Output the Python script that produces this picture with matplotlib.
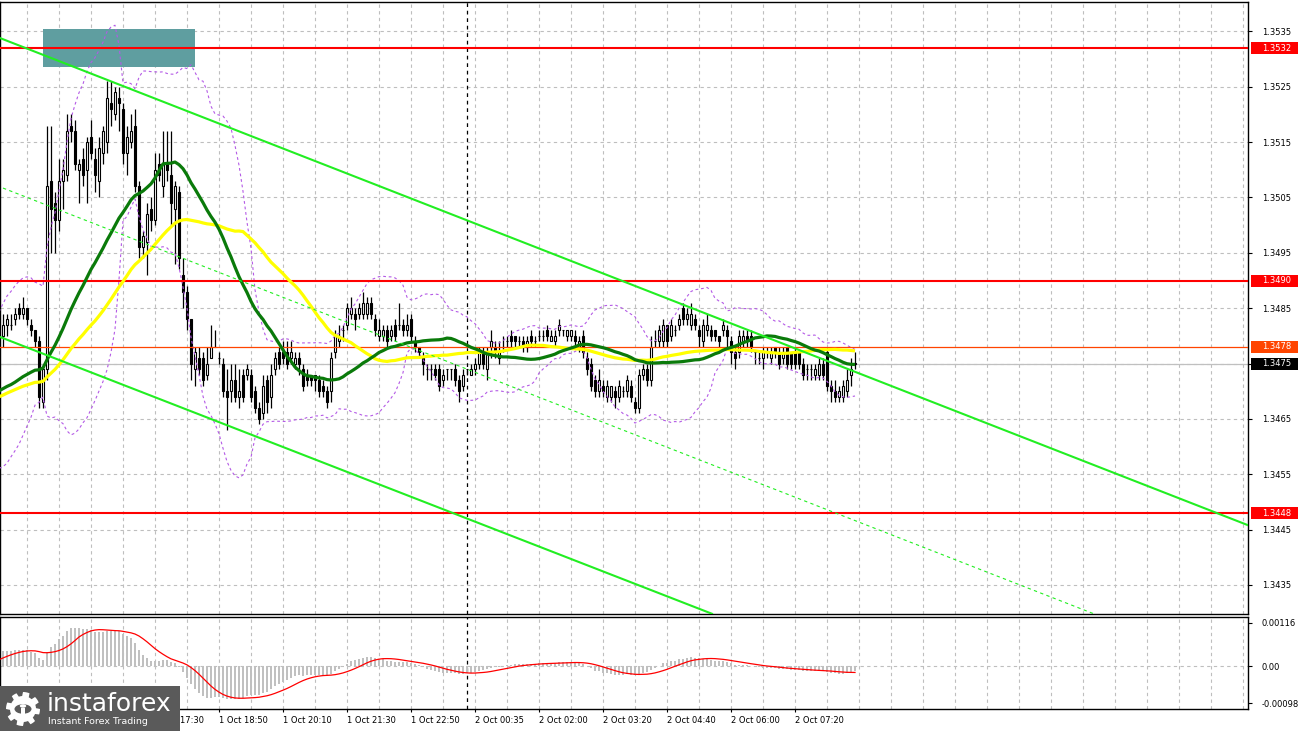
import numpy as np
import pandas as pd
import matplotlib
matplotlib.use("Agg")
import matplotlib.pyplot as plt
from matplotlib.patches import Rectangle, Polygon, Circle

plt.rcParams['font.family'] = ['DejaVu Sans']

# ---------------- data (5-minute candles) ----------------
opens = [1.3480, 1.3482, 1.3482, 1.3483, 1.3485, 1.3484, 1.3485, 1.3482, 1.3481, 1.3479,
         1.3468, 1.3474, 1.3508, 1.3504, 1.3501, 1.3508, 1.3509, 1.3518, 1.3517, 1.3510,
         1.3512, 1.3510, 1.3516, 1.3512, 1.3508, 1.3513, 1.3515, 1.3522, 1.3520, 1.3523,
         1.3521, 1.3513, 1.3515, 1.3518, 1.3507, 1.3496, 1.3497, 1.3503, 1.3501, 1.3511,
         1.3507, 1.3511, 1.3509, 1.3503, 1.3506, 1.3491, 1.3488, 1.3483, 1.3474, 1.3476,
         1.3476, 1.3473, 1.3476, 1.3478, 1.3476, 1.3475, 1.3470, 1.3470, 1.3472, 1.3469,
         1.3473, 1.3473, 1.3473, 1.3470, 1.3467, 1.3466, 1.3472, 1.3469, 1.3474, 1.3477,
         1.3477, 1.3477, 1.3476, 1.3475, 1.3476, 1.3474, 1.3473, 1.3473, 1.3473, 1.3472,
         1.3471, 1.3470, 1.3470, 1.3477, 1.3479, 1.3481, 1.3482, 1.3484, 1.3484, 1.3484,
         1.3484, 1.3484, 1.3486, 1.3483, 1.3480, 1.3480, 1.3481, 1.3480, 1.3482, 1.3482,
         1.3482, 1.3481, 1.3483, 1.3479, 1.3478, 1.3476, 1.3474, 1.3474, 1.3474, 1.3474,
         1.3472, 1.3474, 1.3474, 1.3474, 1.3472, 1.3471, 1.3474, 1.3473, 1.3474, 1.3475,
         1.3477, 1.3474, 1.3478, 1.3478, 1.3476, 1.3478, 1.3479, 1.3480, 1.3480, 1.3479,
         1.3479, 1.3478, 1.3480, 1.3479, 1.3480, 1.3480, 1.3481, 1.3479, 1.3479, 1.3481,
         1.3481, 1.3480, 1.3480, 1.3480, 1.3478, 1.3480, 1.3476, 1.3475, 1.3472, 1.3470,
         1.3471, 1.3469, 1.3469, 1.3470, 1.3469, 1.3470, 1.3470, 1.3471, 1.3468, 1.3467,
         1.3473, 1.3474, 1.3472, 1.3479, 1.3479, 1.3479, 1.3482, 1.3480, 1.3481, 1.3482,
         1.3485, 1.3483, 1.3482, 1.3483, 1.3481, 1.3479, 1.3481, 1.3481, 1.3481, 1.3480,
         1.3481, 1.3481, 1.3479, 1.3477, 1.3477, 1.3479, 1.3480, 1.3480, 1.3477, 1.3476,
         1.3476, 1.3477, 1.3476, 1.3478, 1.3477, 1.3476, 1.3478, 1.3477, 1.3477, 1.3477,
         1.3475, 1.3474, 1.3474, 1.3473, 1.3473, 1.3475, 1.3477, 1.3471, 1.3470, 1.3469,
         1.3469, 1.3470, 1.3473, 1.3475]
highs = [1.3484, 1.3484, 1.3484, 1.3485, 1.3486, 1.3487, 1.3485, 1.3483, 1.3481, 1.3480,
         1.3475, 1.3518, 1.3518, 1.3506, 1.3512, 1.3512, 1.3520, 1.3520, 1.3519, 1.3512,
         1.3514, 1.3516, 1.3519, 1.3514, 1.3516, 1.3518, 1.3526, 1.3526, 1.3525, 1.3525,
         1.3522, 1.3518, 1.3520, 1.3521, 1.3508, 1.3499, 1.3504, 1.3505, 1.3513, 1.3513,
         1.3517, 1.3517, 1.3517, 1.3508, 1.3507, 1.3494, 1.3489, 1.3483, 1.3478, 1.3478,
         1.3477, 1.3478, 1.3482, 1.3481, 1.3477, 1.3476, 1.3474, 1.3475, 1.3475, 1.3474,
         1.3474, 1.3475, 1.3474, 1.3471, 1.3468, 1.3473, 1.3473, 1.3475, 1.3477, 1.3478,
         1.3479, 1.3479, 1.3479, 1.3477, 1.3477, 1.3475, 1.3474, 1.3473, 1.3473, 1.3473,
         1.3472, 1.3471, 1.3477, 1.3481, 1.3482, 1.3482, 1.3486, 1.3487, 1.3485, 1.3486,
         1.3488, 1.3487, 1.3487, 1.3484, 1.3483, 1.3482, 1.3482, 1.3482, 1.3483, 1.3486,
         1.3483, 1.3484, 1.3484, 1.3480, 1.3478, 1.3477, 1.3475, 1.3475, 1.3475, 1.3475,
         1.3474, 1.3474, 1.3474, 1.3475, 1.3473, 1.3474, 1.3474, 1.3475, 1.3476, 1.3478,
         1.3478, 1.3478, 1.3481, 1.3479, 1.3479, 1.3480, 1.3480, 1.3481, 1.3480, 1.3480,
         1.3480, 1.3480, 1.3481, 1.3480, 1.3481, 1.3481, 1.3482, 1.3481, 1.3481, 1.3483,
         1.3481, 1.3481, 1.3481, 1.3481, 1.3480, 1.3481, 1.3477, 1.3476, 1.3473, 1.3474,
         1.3472, 1.3472, 1.3471, 1.3471, 1.3472, 1.3471, 1.3473, 1.3472, 1.3469, 1.3474,
         1.3475, 1.3475, 1.3480, 1.3481, 1.3482, 1.3483, 1.3482, 1.3483, 1.3482, 1.3484,
         1.3486, 1.3485, 1.3486, 1.3484, 1.3482, 1.3483, 1.3484, 1.3482, 1.3481, 1.3480,
         1.3483, 1.3482, 1.3480, 1.3478, 1.3481, 1.3481, 1.3481, 1.3481, 1.3477, 1.3477,
         1.3478, 1.3478, 1.3478, 1.3478, 1.3478, 1.3478, 1.3478, 1.3477, 1.3478, 1.3477,
         1.3476, 1.3475, 1.3475, 1.3475, 1.3476, 1.3476, 1.3478, 1.3472, 1.3472, 1.3471,
         1.3472, 1.3474, 1.3476, 1.3477]
lows = [1.3478, 1.3480, 1.3481, 1.3482, 1.3483, 1.3483, 1.3482, 1.3480, 1.3478, 1.3467,
        1.3467, 1.3472, 1.3495, 1.3495, 1.3499, 1.3503, 1.3508, 1.3515, 1.3510, 1.3504,
        1.3507, 1.3504, 1.3512, 1.3506, 1.3505, 1.3511, 1.3513, 1.3518, 1.3519, 1.3517,
        1.3511, 1.3509, 1.3514, 1.3506, 1.3494, 1.3494, 1.3491, 1.3499, 1.3500, 1.3508,
        1.3505, 1.3508, 1.3500, 1.3493, 1.3492, 1.3485, 1.3481, 1.3472, 1.3471, 1.3473,
        1.3471, 1.3472, 1.3476, 1.3478, 1.3475, 1.3469, 1.3463, 1.3468, 1.3468, 1.3467,
        1.3468, 1.3472, 1.3468, 1.3466, 1.3464, 1.3465, 1.3466, 1.3467, 1.3473, 1.3474,
        1.3475, 1.3474, 1.3475, 1.3474, 1.3473, 1.3470, 1.3471, 1.3471, 1.3470, 1.3469,
        1.3469, 1.3467, 1.3468, 1.3476, 1.3478, 1.3479, 1.3481, 1.3483, 1.3481, 1.3483,
        1.3483, 1.3483, 1.3483, 1.3480, 1.3479, 1.3479, 1.3478, 1.3479, 1.3479, 1.3481,
        1.3480, 1.3480, 1.3479, 1.3477, 1.3476, 1.3473, 1.3472, 1.3472, 1.3472, 1.3470,
        1.3471, 1.3472, 1.3472, 1.3471, 1.3468, 1.3470, 1.3473, 1.3473, 1.3473, 1.3474,
        1.3474, 1.3472, 1.3476, 1.3476, 1.3475, 1.3477, 1.3478, 1.3478, 1.3478, 1.3478,
        1.3477, 1.3477, 1.3478, 1.3478, 1.3479, 1.3479, 1.3479, 1.3479, 1.3478, 1.3480,
        1.3480, 1.3479, 1.3479, 1.3478, 1.3477, 1.3476, 1.3473, 1.3470, 1.3469, 1.3469,
        1.3469, 1.3468, 1.3468, 1.3467, 1.3468, 1.3469, 1.3469, 1.3468, 1.3466, 1.3466,
        1.3472, 1.3471, 1.3471, 1.3478, 1.3478, 1.3478, 1.3478, 1.3479, 1.3480, 1.3481,
        1.3482, 1.3482, 1.3481, 1.3481, 1.3478, 1.3478, 1.3480, 1.3479, 1.3479, 1.3478,
        1.3480, 1.3478, 1.3475, 1.3474, 1.3476, 1.3478, 1.3478, 1.3477, 1.3475, 1.3475,
        1.3474, 1.3476, 1.3475, 1.3476, 1.3474, 1.3475, 1.3474, 1.3474, 1.3474, 1.3474,
        1.3472, 1.3472, 1.3472, 1.3472, 1.3472, 1.3472, 1.3470, 1.3468, 1.3468, 1.3468,
        1.3468, 1.3469, 1.3471, 1.3474]
closes = [1.3482, 1.3483, 1.3482, 1.3484, 1.3484, 1.3485, 1.3483, 1.3481, 1.3479, 1.3469,
          1.3474, 1.3507, 1.3503, 1.3501, 1.3508, 1.3510, 1.3517, 1.3517, 1.3511, 1.3511,
          1.3509, 1.3515, 1.3513, 1.3509, 1.3514, 1.3517, 1.3523, 1.3521, 1.3524, 1.3522,
          1.3513, 1.3516, 1.3517, 1.3507, 1.3496, 1.3498, 1.3502, 1.3501, 1.3510, 1.3509,
          1.3511, 1.3510, 1.3504, 1.3507, 1.3494, 1.3488, 1.3483, 1.3475, 1.3477, 1.3474,
          1.3472, 1.3475, 1.3478, 1.3478, 1.3476, 1.3470, 1.3469, 1.3472, 1.3469, 1.3470,
          1.3469, 1.3474, 1.3469, 1.3467, 1.3465, 1.3471, 1.3468, 1.3473, 1.3476, 1.3475,
          1.3476, 1.3475, 1.3477, 1.3476, 1.3475, 1.3471, 1.3472, 1.3472, 1.3472, 1.3470,
          1.3470, 1.3468, 1.3476, 1.3480, 1.3480, 1.3481, 1.3485, 1.3485, 1.3483, 1.3485,
          1.3486, 1.3486, 1.3484, 1.3481, 1.3481, 1.3481, 1.3479, 1.3481, 1.3480, 1.3482,
          1.3481, 1.3482, 1.3480, 1.3478, 1.3477, 1.3475, 1.3474, 1.3474, 1.3473, 1.3471,
          1.3473, 1.3474, 1.3474, 1.3472, 1.3470, 1.3473, 1.3474, 1.3474, 1.3475, 1.3477,
          1.3475, 1.3477, 1.3479, 1.3477, 1.3477, 1.3478, 1.3479, 1.3479, 1.3479, 1.3479,
          1.3478, 1.3479, 1.3479, 1.3479, 1.3480, 1.3480, 1.3480, 1.3480, 1.3480, 1.3482,
          1.3481, 1.3481, 1.3481, 1.3479, 1.3479, 1.3477, 1.3474, 1.3471, 1.3470, 1.3472,
          1.3470, 1.3471, 1.3471, 1.3469, 1.3471, 1.3470, 1.3472, 1.3469, 1.3467, 1.3473,
          1.3474, 1.3472, 1.3478, 1.3479, 1.3481, 1.3482, 1.3479, 1.3482, 1.3481, 1.3483,
          1.3483, 1.3484, 1.3484, 1.3482, 1.3480, 1.3482, 1.3482, 1.3480, 1.3480, 1.3479,
          1.3482, 1.3480, 1.3477, 1.3476, 1.3480, 1.3480, 1.3479, 1.3478, 1.3477, 1.3476,
          1.3477, 1.3477, 1.3477, 1.3477, 1.3475, 1.3477, 1.3475, 1.3475, 1.3475, 1.3475,
          1.3473, 1.3474, 1.3474, 1.3474, 1.3475, 1.3473, 1.3471, 1.3470, 1.3469, 1.3470,
          1.3471, 1.3472, 1.3474, 1.3475]
# closes before the visible window (estimated from the indicator levels at the left edge)
history_closes = [1.3468, 1.3467, 1.3469, 1.3470, 1.3468, 1.3466, 1.3467, 1.3469, 1.3470, 1.3468,
                  1.3467, 1.3465, 1.3466, 1.3468, 1.3469, 1.3470, 1.3471, 1.3469, 1.3468, 1.3467,
                  1.3466, 1.3468, 1.3469, 1.3467, 1.3466, 1.3465, 1.3466, 1.3467, 1.3468, 1.3466,
                  1.3470, 1.3471, 1.3472, 1.3471, 1.3469, 1.3470, 1.3471, 1.3469, 1.3468, 1.3467,
                  1.3464, 1.3463, 1.3462, 1.3463, 1.3464, 1.3463, 1.3465, 1.3466, 1.3465, 1.3467,
                  1.3469, 1.3471, 1.3470, 1.3473, 1.3475, 1.3477, 1.3480, 1.3482, 1.3483, 1.3482]

time_ticks = [38, 54, 70, 86, 102, 118, 134, 150, 166, 182, 198]
time_labels = ["1 Oct 17:30", "1 Oct 18:50", "1 Oct 20:10", "1 Oct 21:30", "1 Oct 22:50",
               "2 Oct 00:35", "2 Oct 02:00", "2 Oct 03:20", "2 Oct 04:40", "2 Oct 06:00",
               "2 Oct 07:20"]
price_ticks = [1.3435, 1.3445, 1.3455, 1.3465, 1.3475, 1.3485, 1.3495, 1.3505, 1.3515, 1.3525, 1.3535]
macd_ticks = [0.00116, 0.0, -0.00098]
macd_tick_labels = ["0.00116", "0.00", "-0.00098"]
red_levels = [1.3532, 1.3490, 1.3448]
orange_level = 1.3478
last_price = 1.3475
zone_k = [10, 48]
zone_price = [1.35286, 1.35354]
chan_upper_k, chan_upper_p = [-0.75, 311.25], [1.35338, 1.34458]
chan_lower_k, chan_lower_p = [-0.75, 177.25], [1.34798, 1.34298]
chan_mid_k, chan_mid_p = [0.0, 272.7], [1.35067, 1.34298]
day_separator_k = 116

# ---------------- indicators (SMA30, SMA50, Bollinger 20, MACD 12/26/9) ----------------
n = len(closes)
nh = len(history_closes)
s = pd.Series(history_closes + closes)
sma30 = s.rolling(30).mean().values
sma50 = s.rolling(50).mean().values
bb_mid = s.rolling(20).mean()
bb_std = s.rolling(20).std(ddof=0)
bb_up = (bb_mid + 2 * bb_std).values
bb_dn = (bb_mid - 2 * bb_std).values
macd = (s.ewm(span=12, adjust=False).mean() - s.ewm(span=26, adjust=False).mean())
signal = macd.rolling(9).mean().values
macd = macd.values
kk = np.arange(-nh, n)
vis = kk >= -1
kv = kk[vis]

# ---------------- figure ----------------
W, H = 1300, 731
fig = plt.figure(figsize=(W / 100, H / 100), dpi=100)
fig.patch.set_facecolor('white')
ax = fig.add_axes([0, 1 - 614 / H, 1248 / W, (614 - 2) / H])
ax2 = fig.add_axes([0, 1 - 709 / H, 1248 / W, (709 - 617) / H], sharex=ax)

ax.set_xlim(-0.75, 311.25)
ax.set_ylim(1.342976, 1.354031)
ax2.set_ylim(-0.00114, 0.00132)

grid_kw = dict(color='#BEBEBE', lw=0.8, ls=(0, (3, 3)), zorder=0)
for g in np.arange(6, 312, 8):
    ax.axvline(g, **grid_kw)
    ax2.axvline(g, **grid_kw)
for p in price_ticks:
    ax.axhline(p, **grid_kw)
ax2.axhline(0.0, **grid_kw)

# zone rectangle
ax.add_patch(Rectangle((zone_k[0], zone_price[0]), zone_k[1] - zone_k[0],
                       zone_price[1] - zone_price[0], fc='#5F9EA0', ec='none', zorder=1))

# candles
o = np.array(opens); h = np.array(highs); l = np.array(lows); c = np.array(closes)
x = np.arange(n)
ax.vlines(x, l, h, color='black', lw=0.9, zorder=3)
bull = c >= o
body_lo = np.minimum(o, c)
body_h = np.maximum(np.abs(c - o), 0.000004)
ax.bar(x[bull], body_h[bull], bottom=body_lo[bull], width=0.62, color='white',
       edgecolor='black', linewidth=0.8, zorder=4)
ax.bar(x[~bull], body_h[~bull], bottom=body_lo[~bull], width=0.62, color='black',
       edgecolor='black', linewidth=0.8, zorder=4)

# horizontal levels
for lv in red_levels:
    ax.axhline(lv, color='#FF0000', lw=1.5, zorder=6)
ax.axhline(orange_level, color='#FF4500', lw=0.9, zorder=6)
ax.axhline(last_price, color='#C0C0C0', lw=0.9, zorder=2)

# indicators
ax.plot(kv, bb_up[vis], color='#B45AE6', lw=0.8, ls=(0, (2.5, 2.5)), zorder=5)
ax.plot(kv, bb_dn[vis], color='#B45AE6', lw=0.8, ls=(0, (2.5, 2.5)), zorder=5)
ax.plot(kv, sma50[vis], color='#FFFF00', lw=2.3, zorder=6, solid_capstyle='butt')
ax.plot(kv, sma30[vis], color='#0A7A0A', lw=2.3, zorder=7, solid_capstyle='butt')

# channel lines
ax.plot(chan_upper_k, chan_upper_p, color='#22EE22', lw=1.5, zorder=8)
ax.plot(chan_lower_k, chan_lower_p, color='#22EE22', lw=1.5, zorder=8)
ax.plot(chan_mid_k, chan_mid_p, color='#22EE22', lw=0.8, ls=(0, (3, 3)), zorder=8)

# day separator
ax.axvline(day_separator_k, color='black', lw=0.9, ls=(0, (3, 3)), zorder=2)
ax2.axvline(day_separator_k, color='black', lw=0.9, ls=(0, (3, 3)), zorder=2)

# MACD
ax2.bar(kv, macd[vis], width=0.5, color='#C0C0C0', zorder=2)
ax2.plot(kv, signal[vis], color='#FF0000', lw=0.9, zorder=3)

# axes styling
for a in (ax, ax2):
    for sp in a.spines.values():
        sp.set_color('black')
        sp.set_linewidth(1.0)
    a.set_facecolor('white')

ax.yaxis.tick_right()
ax.set_yticks(price_ticks)
ax.set_yticklabels([f"{p:.4f}" for p in price_ticks])
ax.tick_params(axis='y', direction='out', length=3, width=0.8, pad=7, labelsize=6)
ax.tick_params(axis='x', which='both', bottom=False, labelbottom=False)

ax2.yaxis.tick_right()
ax2.set_yticks(macd_ticks)
ax2.set_yticklabels(macd_tick_labels)
ax2.tick_params(axis='y', direction='out', length=3, width=0.8, pad=7, labelsize=6)
ax2.set_xticks(time_ticks)
ax2.set_xticklabels(time_labels)
ax2.tick_params(axis='x', direction='out', length=2.5, width=0.8, pad=2.5, labelsize=6)
for lbl in ax2.get_xticklabels():
    lbl.set_ha('left')

# price tags on the right scale
def price_tag(price, text, fc):
    y_disp = ax.transData.transform((0, price))[1]
    yf = y_disp / fig.bbox.height
    hh = 12 / H
    fig.patches.append(Rectangle((1251 / W, yf - hh / 2), 47 / W, hh, transform=fig.transFigure,
                                 fc=fc, ec='none', zorder=5))
    fig.text(1262 / W, yf, text, color='white', fontsize=6, va='center', ha='left', zorder=6)

for lv in red_levels:
    price_tag(lv, f"{lv:.4f}", '#FF0000')
price_tag(orange_level, f"{orange_level:.4f}", '#FF4500')
price_tag(last_price, f"{last_price:.4f}", '#000000')

# logo
fig.patches.append(Rectangle((0, 0), 180 / W, 45 / H, transform=fig.transFigure,
                             fc='#5A5A5A', ec='none', zorder=10))
cx, cy, r_out, r_in = 23, 709, 17, 13
ang = np.linspace(0, 2 * np.pi, 97)
rad = np.where((np.floor(ang / (2 * np.pi / 8) * 2) % 2) == 0, r_out, r_in)
gx = (cx + rad * np.cos(ang)) / W
gy = (H - (cy + rad * np.sin(ang))) / H
fig.patches.append(Polygon(np.column_stack([gx, gy]), closed=True, transform=fig.transFigure,
                           fc='white', ec='none', zorder=11))
fig.patches.append(Circle((cx / W, (H - cy) / H), 8.5 / W, transform=fig.transFigure,
                          fc='#5A5A5A', ec='none', zorder=12))
fig.patches.append(Circle((cx / W, (H - cy + 3) / H), 3.2 / W, transform=fig.transFigure,
                          fc='white', ec='none', zorder=13))
fig.patches.append(Rectangle(((cx - 2) / W, (H - cy - 9) / H), 4 / W, 10 / H, transform=fig.transFigure,
                             fc='white', ec='none', zorder=13))
fig.text(47 / W, (H - 704) / H, "instaforex", color='white', fontsize=18, va='center',
         ha='left', zorder=14)
fig.text(48 / W, (H - 721) / H, "Instant Forex Trading", color='white', fontsize=6.8,
         va='center', ha='left', zorder=14)

fig.savefig("out.png", dpi=100, facecolor='white')
